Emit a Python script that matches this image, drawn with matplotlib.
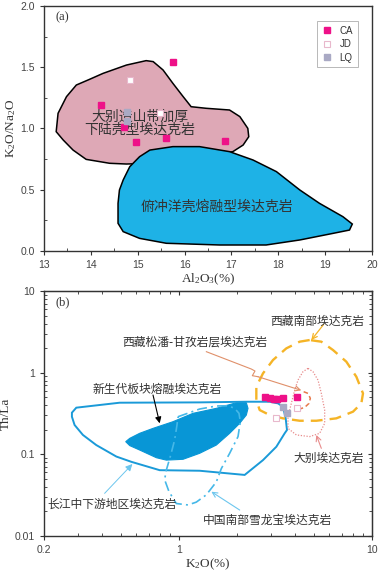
import numpy as np
import matplotlib
matplotlib.use('Agg')
import matplotlib.pyplot as plt
from matplotlib.ticker import FixedLocator, NullFormatter, MultipleLocator

plt.rcParams['font.family'] = ['Liberation Sans', 'Noto Sans CJK SC']
plt.rcParams['mathtext.fontset'] = 'custom'
plt.rcParams['mathtext.rm'] = 'Liberation Serif'
plt.rcParams['mathtext.it'] = 'Liberation Serif:italic'

# ---------------- panel (a) data: Al2O3 vs K2O/Na2O ----------------
ca_al = [14.21, 15.75, 14.70, 14.97, 15.60, 16.87]
ca_kn = [1.195, 1.54, 1.012, 0.887, 0.92, 0.895]
jd_al = [14.84, 15.47]
jd_kn = [1.40, 1.13]
lq_al = [14.78, 14.78]
lq_kn = [1.137, 1.064]

# Dabie thickened lower crust field
dabie_al = [13.26, 13.30, 13.48, 13.69, 13.97, 14.26, 14.76, 15.18, 15.33, 15.54, 15.75, 15.97,
            16.14, 16.46, 16.96, 17.18, 17.35, 17.37, 17.25, 17.03, 16.32, 15.26, 14.76, 14.40,
            13.90, 13.62, 13.41]
dabie_kn = [0.974, 1.124, 1.260, 1.355, 1.401, 1.450, 1.518, 1.554, 1.546, 1.478, 1.369, 1.260,
            1.178, 1.165, 1.151, 1.097, 1.001, 0.933, 0.865, 0.811, 0.770, 0.716, 0.710, 0.716,
            0.748, 0.824, 0.906]
# subducted oceanic crust melt field
ocean_al = [15.04, 15.26, 15.75, 16.32, 16.96, 17.46, 17.96, 18.46, 18.88, 19.38, 19.58, 19.52,
            19.17, 18.46, 17.74, 16.75, 15.61, 15.04, 14.69, 14.58, 14.58, 14.61, 14.69, 14.83]
ocean_kn = [0.770, 0.824, 0.852, 0.852, 0.811, 0.743, 0.648, 0.498, 0.389, 0.280, 0.220, 0.171,
            0.144, 0.090, 0.049, 0.049, 0.063, 0.103, 0.158, 0.226, 0.389, 0.498, 0.580, 0.688]

# ---------------- panel (b) data: K2O vs Th/La ----------------
ca_k = [2.78, 2.95, 3.10, 3.22, 3.46, 4.09]
ca_thla = [0.50, 0.485, 0.47, 0.476, 0.485, 0.508]
jd_k = [3.20, 4.09]
jd_thla = [0.276, 0.366]
lq_k = [3.46, 3.63]
lq_thla = [0.376, 0.324]

yangtze_k = [0.279, 0.294, 0.493, 1.280, 2.234, 2.951, 3.260, 3.459, 3.572, 3.628, 3.529, 3.196,
             2.725, 2.190, 1.280, 0.795, 0.567, 0.474, 0.373, 0.318, 0.288, 0.279]
yangtze_thla = [0.324, 0.373, 0.429, 0.433, 0.441, 0.441, 0.421, 0.383, 0.276, 0.199, 0.181, 0.124,
                0.085, 0.056, 0.063, 0.064, 0.081, 0.094, 0.130, 0.173, 0.229, 0.289]
cenozoic_k = [0.530, 0.556, 0.626, 0.734, 0.931, 1.183, 1.562, 1.983, 2.105, 2.234, 2.279, 2.234,
              2.064, 1.831, 1.562, 1.280, 1.050, 0.860, 0.764, 0.626, 0.556]
cenozoic_thla = [0.143, 0.157, 0.181, 0.208, 0.251, 0.318, 0.366, 0.429, 0.441, 0.429, 0.366, 0.303,
                 0.240, 0.181, 0.130, 0.103, 0.087, 0.085, 0.091, 0.113, 0.128]
xuelong_k = [0.989, 1.280, 1.562, 1.795, 1.944, 2.047, 2.080, 2.023, 1.831, 1.658, 1.562, 1.387,
             1.230, 1.114, 0.969, 0.888, 0.843, 0.860, 0.902, 0.950, 0.977, 0.989]
xuelong_thla = [0.289, 0.359, 0.391, 0.394, 0.366, 0.318, 0.251, 0.165, 0.103, 0.067, 0.046, 0.032,
                0.026, 0.024, 0.025, 0.035, 0.049, 0.064, 0.094, 0.150, 0.229, 0.289]
tibet_k = [4.755, 4.220, 3.600, 3.070, 2.725, 2.517, 2.517, 2.619, 2.951, 3.459, 4.220, 5.149,
           6.536, 7.973, 8.807, 8.983, 8.297, 7.364, 6.281, 5.465, 4.755]
tibet_thla = [2.512, 2.397, 1.986, 1.429, 0.981, 0.674, 0.463, 0.349, 0.303, 0.276, 0.258, 0.258,
              0.276, 0.333, 0.421, 0.558, 0.893, 1.364, 1.895, 2.397, 2.512]
dabie_k = [4.661, 4.390, 4.138, 3.977, 3.821, 3.672, 3.672, 4.056, 4.755, 5.357, 5.687, 5.687,
           5.465, 5.252, 4.948, 4.661]
dabie_thla = [1.130, 1.028, 0.813, 0.613, 0.421, 0.289, 0.208, 0.173, 0.165, 0.181, 0.240, 0.349,
              0.558, 0.813, 1.028, 1.130]
songpan_k = [4.426, 4.661, 4.793, 4.717, 4.480, 4.220]
songpan_thla = [0.585, 0.558, 0.485, 0.421, 0.376, 0.359]
songpan_arrow_k = [1.387, 2.371, 2.477, 2.400, 2.568, 4.304]
songpan_arrow_thla = [1.808, 1.109, 1.048, 0.919, 0.893, 0.608]

fig = plt.figure(figsize=(3.86, 5.72), dpi=100)
ax1 = fig.add_axes([0.114, 0.5612, 0.8497, 0.4283])
ax2 = fig.add_axes([0.114, 0.0629, 0.8497, 0.4283])

cjk = ['Noto Sans CJK SC', 'DejaVu Sans']
txtc = '#333333'
spine_c = '#333333'

# ================= panel (a) =================
ax1.fill(dabie_al, dabie_kn, facecolor='#dea8b6', edgecolor='black', lw=1.1, zorder=1)
ax1.fill(ocean_al, ocean_kn, facecolor='#1eb2e6', edgecolor='black', lw=1.1, zorder=2)
ax1.plot(ca_al, ca_kn, 's', ms=4.3, color='#ee1188', mec='#ee1188', ls='none', label='CA', zorder=4)
ax1.plot(jd_al, jd_kn, 's', ms=4.3, mfc='white', mec='#e8b8cc', mew=0.8, ls='none', label='JD', zorder=4)
ax1.plot(lq_al, lq_kn, 's', ms=4.3, color='#a9a9c4', mec='#a9a9c4', ls='none', label='LQ', zorder=4)

ax1.text(15.04, 1.097, '大别造山带加厚', ha='center', va='center', fontsize=10, family=cjk,
         weight='light', color=txtc, zorder=3)
ax1.text(15.04, 0.988, '下陆壳型埃达克岩', ha='center', va='center', fontsize=10, family=cjk,
         weight='light', color=txtc, zorder=3)
ax1.text(16.68, 0.362, '俯冲洋壳熔融型埃达克岩', ha='center', va='center', fontsize=10, family=cjk,
         weight='light', color=txtc, zorder=3)

ax1.set_xlim(13, 20)
ax1.set_ylim(0, 2.0)
ax1.xaxis.set_major_locator(MultipleLocator(1))
ax1.xaxis.set_minor_locator(MultipleLocator(0.5))
ax1.yaxis.set_major_locator(MultipleLocator(0.5))
ax1.yaxis.set_minor_locator(MultipleLocator(0.25))
ax1.yaxis.set_major_formatter(plt.FuncFormatter(lambda v, p: '%.1f' % v))
ax1.tick_params(which='major', direction='out', length=3, width=0.8, labelsize=7.5, labelcolor='#444444', colors=spine_c)
ax1.tick_params(which='minor', direction='in', length=2, width=0.6, colors=spine_c)
ax1.set_xlabel(r'Al$_2$O$_3$(%)', family='Liberation Serif', fontsize=9.5, labelpad=1, color=txtc)
ax1.set_ylabel(r'K$_2$O/Na$_2$O', family='Liberation Serif', fontsize=9.5, labelpad=2, color=txtc)
ax1.text(0.034, 0.955, '(a)', transform=ax1.transAxes, family='Liberation Serif', fontsize=9, va='center', color=txtc)
for s in ax1.spines.values():
    s.set_color(spine_c)
    s.set_linewidth(1.0)

leg = ax1.legend(loc='upper right', bbox_to_anchor=(0.957, 0.939), frameon=True, fancybox=False,
                 fontsize=7, borderaxespad=0, handlelength=1.0, handletextpad=0.8, borderpad=0.5,
                 labelspacing=0.35)
leg.get_frame().set_edgecolor('#999999')
leg.get_frame().set_linewidth(0.6)
for t in leg.get_texts():
    t.set_color('#333333')

# ================= panel (b) =================
ax2.set_xscale('log')
ax2.set_yscale('log')

ax2.fill(yangtze_k, yangtze_thla, facecolor='none', edgecolor='#1a9ad8', lw=1.4, zorder=2)
ax2.fill(cenozoic_k, cenozoic_thla, facecolor='#0896d6', edgecolor='#0896d6', lw=0.8, zorder=1)
ax2.plot(xuelong_k, xuelong_thla, color='#45b8e8', lw=1.2, ls=(0, (6, 2.5, 1.2, 2.5)), zorder=3)
ax2.plot(tibet_k, tibet_thla, color='#f5b426', lw=1.7, ls=(0, (5, 3)), zorder=3)
ax2.plot(dabie_k, dabie_thla, color='#e88c8c', lw=0.9, ls=(0, (1, 1.3)), zorder=3)
ax2.plot(songpan_k, songpan_thla, color='#e8784a', lw=1.1, ls=(0, (3, 2)), zorder=3)

ax2.plot(ca_k, ca_thla, 's', ms=4.3, color='#ee1188', mec='#ee1188', ls='none', zorder=5)
ax2.plot(jd_k, jd_thla, 's', ms=4.3, mfc='white', mec='#e8b8cc', mew=0.8, ls='none', zorder=5)
ax2.plot(lq_k, lq_thla, 's', ms=4.3, color='#a9a9c4', mec='#a9a9c4', ls='none', zorder=5)

# arrows
ax2.plot(songpan_arrow_k[:-1], songpan_arrow_thla[:-1], color='#e0906a', lw=0.8, zorder=4)
ax2.annotate('', xy=(songpan_arrow_k[-1], songpan_arrow_thla[-1]),
             xytext=(songpan_arrow_k[-2], songpan_arrow_thla[-2]),
             arrowprops=dict(arrowstyle='->', color='#e0906a', lw=0.8, mutation_scale=9, shrinkA=0, shrinkB=0))
ax2.annotate('', xy=(4.85, 2.512), xytext=(5.62, 3.906),
             arrowprops=dict(arrowstyle='->', color='#f5b426', lw=0.9, mutation_scale=9, shrinkA=0, shrinkB=0))
ax2.annotate('', xy=(0.795, 0.240), xytext=(0.734, 0.533),
             arrowprops=dict(arrowstyle='-|>', color='black', lw=0.8, mutation_scale=9, shrinkA=0, shrinkB=0))
ax2.annotate('', xy=(5.149, 0.1725), xytext=(5.465, 0.1185),
             arrowprops=dict(arrowstyle='->', color='#e88c8c', lw=0.8, mutation_scale=9, shrinkA=0, shrinkB=0))
ax2.annotate('', xy=(0.574, 0.0761), xytext=(0.412, 0.0333),
             arrowprops=dict(arrowstyle='-|>', color='#6cc6ee', lw=0.7, mutation_scale=10, shrinkA=0, shrinkB=0))
ax2.annotate('', xy=(1.472, 0.0349), xytext=(2.064, 0.0208),
             arrowprops=dict(arrowstyle='->', color='#6cc6ee', lw=0.8, mutation_scale=9, shrinkA=0, shrinkB=0))

lab_kw = dict(ha='center', va='center', fontsize=8.5, family=cjk, weight='light', color=txtc)
ax2.text(5.19, 4.29, '西藏南部埃达克岩', **lab_kw)
ax2.text(1.206, 2.375, '西藏松潘-甘孜岩层埃达克岩', **lab_kw)
ax2.text(0.767, 0.631, '新生代板块熔融埃达克岩', **lab_kw)
ax2.text(5.965, 0.0902, '大别埃达克岩', **lab_kw)
ax2.text(0.448, 0.0247, '长江中下游地区埃达克岩', **lab_kw)
ax2.text(2.88, 0.0157, '中国南部雪龙宝埃达克岩', **lab_kw)

ax2.set_xlim(0.2, 10)
ax2.set_ylim(0.01, 10)
xmaj = [0.2, 1, 10]
xmin = [0.3, 0.4, 0.5, 0.6, 0.7, 0.8, 0.9, 2, 3, 4, 5, 6, 7, 8, 9]
ymaj = [0.01, 0.1, 1, 10]
ymin = [m * d for d in [0.01, 0.1, 1] for m in range(2, 10)]
ax2.xaxis.set_major_locator(FixedLocator(xmaj))
ax2.xaxis.set_minor_locator(FixedLocator(xmin))
ax2.xaxis.set_minor_formatter(NullFormatter())
ax2.set_xticklabels(['0.2', '1', '10'])
ax2.yaxis.set_major_locator(FixedLocator(ymaj))
ax2.yaxis.set_minor_locator(FixedLocator(ymin))
ax2.yaxis.set_minor_formatter(NullFormatter())
ax2.set_yticklabels(['0.01', '0.1', '1', '10'])
ax2.tick_params(which='major', direction='out', length=3, width=0.8, labelsize=7.5, labelcolor='#444444', colors=spine_c)
ax2.tick_params(which='minor', direction='in', length=2, width=0.6, colors=spine_c)

# inward ticks on top and right
secx = ax2.secondary_xaxis('top')
secx.xaxis.set_major_locator(FixedLocator(xmaj))
secx.xaxis.set_minor_locator(FixedLocator(xmin))
secx.tick_params(which='major', direction='in', length=3, width=0.8, labeltop=False, colors=spine_c)
secx.tick_params(which='minor', direction='in', length=2, width=0.6, colors=spine_c)
secx.xaxis.set_major_formatter(NullFormatter())
secx.xaxis.set_minor_formatter(NullFormatter())
secy = ax2.secondary_yaxis('right')
secy.yaxis.set_major_locator(FixedLocator(ymaj))
secy.yaxis.set_minor_locator(FixedLocator(ymin))
secy.tick_params(which='major', direction='in', length=3, width=0.8, labelright=False, colors=spine_c)
secy.tick_params(which='minor', direction='in', length=2, width=0.6, colors=spine_c)
secy.yaxis.set_major_formatter(NullFormatter())
secy.yaxis.set_minor_formatter(NullFormatter())
for sa in (secx, secy):
    for s in sa.spines.values():
        s.set_color(spine_c)

ax2.set_xlabel(r'K$_2$O(%)', family='Liberation Serif', fontsize=9.5, labelpad=1, color=txtc)
ax2.set_ylabel('Th/La', family='Liberation Serif', fontsize=9.5, labelpad=2, color=txtc)
ax2.text(0.034, 0.956, '(b)', transform=ax2.transAxes, family='Liberation Serif', fontsize=9, va='center', color=txtc)
for s in ax2.spines.values():
    s.set_color(spine_c)
    s.set_linewidth(1.0)

fig.savefig('out.png', dpi=100)
